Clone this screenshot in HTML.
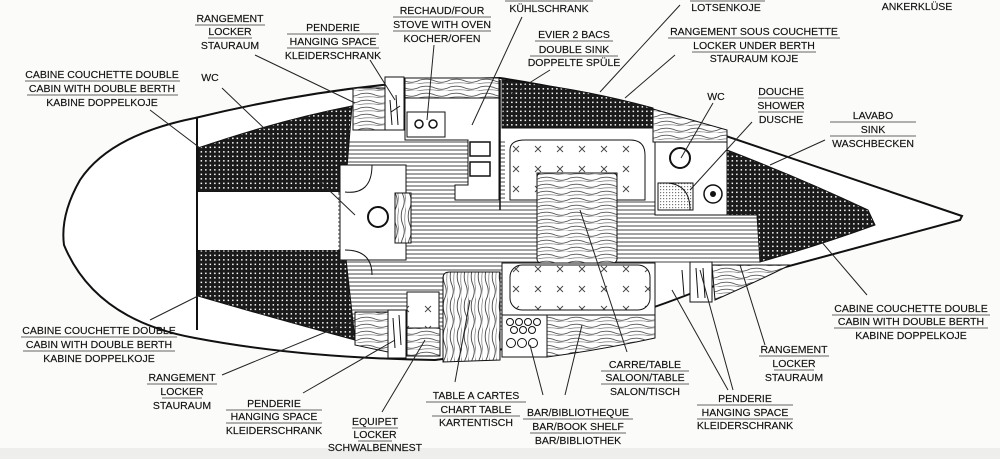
<!DOCTYPE html>
<html><head><meta charset="utf-8"><style>
html,body{margin:0;padding:0;background:#fbfbfa;}
svg{display:block}
text{font-family:"Liberation Sans",sans-serif;font-size:10.5px;fill:#111;text-anchor:middle;stroke:#111;stroke-width:0.15}
</style></head><body>
<svg width="1000" height="459" viewBox="0 0 1000 459" xmlns="http://www.w3.org/2000/svg">
<defs>
<pattern id="hatch" width="4.5" height="4.5" patternUnits="userSpaceOnUse">
<rect width="4.5" height="4.5" fill="#1a1a1a"/><rect x="2.6" y="2.6" width="1.5" height="1.5" fill="#fff"/>
</pattern>
<pattern id="floor" width="6" height="4" patternUnits="userSpaceOnUse">
<rect width="6" height="4" fill="#fff"/><line x1="0" y1="2" x2="6" y2="2" stroke="#444" stroke-width="1"/>
</pattern>
<pattern id="wood" width="30" height="7" patternUnits="userSpaceOnUse">
<rect width="30" height="7" fill="#fff"/><path d="M0 3 Q8 1 15 4 T30 3" fill="none" stroke="#555" stroke-width="0.9"/><path d="M0 6.5 Q10 5 18 6.5 T30 6.5" fill="none" stroke="#777" stroke-width="0.7"/>
</pattern>
<pattern id="woodv" width="7" height="30" patternUnits="userSpaceOnUse">
<rect width="7" height="30" fill="#fff"/><path d="M3 0 Q1 8 4 15 T3 30" fill="none" stroke="#444" stroke-width="0.9"/><path d="M6.5 0 Q5 10 6.5 18 T6.5 30" fill="none" stroke="#777" stroke-width="0.7"/>
</pattern>
<pattern id="cush" width="22" height="20" patternUnits="userSpaceOnUse">
<rect width="22" height="20" fill="#fff"/><path d="M7 6 l6 6 M13 6 l-6 6" stroke="#444" stroke-width="0.9"/>
</pattern>
<pattern id="grid" width="3" height="3" patternUnits="userSpaceOnUse"><rect width="3" height="3" fill="#fff"/><rect width="1.2" height="1.2" fill="#777"/></pattern>
</defs>
<rect x="0" y="448" width="1000" height="11" fill="#eeeeec"/>

<path d="M195 118 Q350 80 500 78 Q580 90 655 112 L962 216 L960 220 Q820 258 700 290 Q560 345 435 360 Q300 358 195 338 Q95 320 64 245 Q60 215 80 180 Q110 135 195 118 Z" fill="#fff" stroke="#111" stroke-width="2"/>

<rect x="335" y="140" width="170" height="190" fill="url(#floor)"/>
<rect x="500" y="200" width="260" height="65" fill="url(#floor)"/>
<line x1="197" y1="118" x2="197" y2="330" stroke="#111" stroke-width="2"/>
<path d="M198 148 Q280 120 352 106 L345 192 L198 192 Z" fill="url(#hatch)" stroke="#111"/>
<path d="M198 250 L345 250 L355 340 Q280 320 198 296 Z" fill="url(#hatch)" stroke="#111"/>
<rect x="198" y="192" width="140" height="58" fill="#fff"/>
<rect x="340" y="165" width="66" height="95" fill="#fff" stroke="#111"/>
<circle cx="378" cy="217" r="10" fill="#fff" stroke="#111" stroke-width="2"/>
<rect x="395" y="193" width="16" height="50" fill="url(#woodv)" stroke="#111"/>
<path d="M345 192 Q372 195 372 165" fill="none" stroke="#111"/>
<path d="M345 250 Q372 250 372 275" fill="none" stroke="#111"/>
<rect x="353" y="88" width="32" height="42" fill="url(#wood)" stroke="#111"/>
<rect x="385" y="77" width="19" height="53" fill="#fff" stroke="#111"/>
<path d="M390 100 L392 125 M396 95 L398 125 M391 112 L400 106" stroke="#111"/>
<rect x="405" y="78" width="94" height="20" fill="url(#wood)" stroke="#111"/>
<path d="M405 98 L499 98 L499 200 L455 200 L455 185 L468 185 L468 140 L405 140 Z" fill="#fff" stroke="#111"/>
<rect x="407" y="112" width="38" height="25" fill="#fff" stroke="#111"/>
<circle cx="419" cy="124" r="4" fill="none" stroke="#111" stroke-width="1.5"/><circle cx="433" cy="124" r="4" fill="none" stroke="#111" stroke-width="1.5"/>
<rect x="470" y="142" width="20" height="14" fill="#fff" stroke="#111" stroke-width="1.5"/>
<rect x="470" y="162" width="20" height="14" fill="#fff" stroke="#111" stroke-width="1.5"/>
<line x1="500" y1="80" x2="500" y2="210" stroke="#111" stroke-width="1.5"/>
<path d="M502 80 Q580 88 653 108 L653 128 L502 128 Z" fill="url(#hatch)" stroke="#111"/>
<path d="M653 109 L727 130 L727 142 L653 142 Z" fill="url(#wood)" stroke="#111"/>
<rect x="655" y="142" width="72" height="73" fill="#fff" stroke="#111"/>
<circle cx="680" cy="158" r="10" fill="#fff" stroke="#111" stroke-width="2"/>
<rect x="658" y="183" width="35" height="27" fill="url(#grid)" stroke="#111"/>
<path d="M668 183 Q690 185 690 210" fill="none" stroke="#111"/>
<circle cx="713" cy="194" r="9" fill="#fff" stroke="#111" stroke-width="1.5"/><circle cx="713" cy="194" r="3" fill="#111"/>
<path d="M510 150 Q510 140 525 140 L630 140 Q645 140 645 155 L645 200 L617 200 L617 173 L537 173 L537 200 L510 200 Z" fill="url(#cush)" stroke="#111"/>
<rect x="537" y="173" width="80" height="90" rx="4" fill="url(#wood)" stroke="#111"/>
<rect x="502" y="263" width="153" height="52" fill="#fff" stroke="#111"/>
<rect x="510" y="265" width="140" height="45" rx="12" fill="url(#cush)" stroke="#111"/>
<rect x="502" y="315" width="45" height="42" fill="#fff" stroke="#111"/>
<g fill="none" stroke="#111"><circle cx="510" cy="322" r="3.5"/><circle cx="519" cy="322" r="3.5"/><circle cx="528" cy="322" r="3.5"/><circle cx="537" cy="322" r="3.5"/><circle cx="514" cy="330" r="3.5"/><circle cx="523" cy="330" r="3.5"/><circle cx="532" cy="330" r="3.5"/><circle cx="511" cy="343" r="4.5"/><circle cx="522" cy="343" r="4.5"/><circle cx="533" cy="343" r="4.5"/></g>
<path d="M547 315 L655 315 L655 338 Q600 350 547 357 Z" fill="url(#wood)" stroke="#111"/>
<path d="M443 278 Q443 272 450 272 L500 272 L500 360 L443 362 Z" fill="url(#woodv)" stroke="#111"/>
<rect x="407" y="292" width="32" height="36" fill="url(#cush)" stroke="#111"/>
<rect x="407" y="328" width="33" height="28" fill="url(#wood)" stroke="#111"/>
<rect x="388" y="310" width="18" height="48" fill="#fff" stroke="#111"/>
<path d="M393 318 L395 348 M399 315 L401 345" stroke="#111"/>
<path d="M355 312 L388 312 L388 352 L355 345 Z" fill="url(#wood)" stroke="#111"/>
<path d="M727 150 Q800 178 868 210 L875 225 Q820 245 760 262 L757 215 L727 215 Z" fill="url(#hatch)" stroke="#111"/>
<path d="M712 265 L790 265 Q760 280 715 300 Z" fill="url(#wood)" stroke="#111"/>
<rect x="690" y="262" width="22" height="40" fill="#fff" stroke="#111"/>
<path d="M682 270 L684 295 M696 268 L698 298 M703 268 L705 298" stroke="#111"/>

<g stroke="#222" stroke-width="1" fill="none">
<path d="M150 110 L200 148"/><path d="M222 88 L355 215"/><path d="M255 55 L355 103"/><path d="M370 60 L395 100"/>
<path d="M434 45 L427 120"/><path d="M522 17 L472 125"/><path d="M550 70 L510 95"/><path d="M680 5 L600 92"/>
<path d="M675 55 L625 98"/><path d="M713 103 L681 158"/><path d="M752 122 L690 190"/><path d="M825 140 L770 165"/>
<path d="M867 295 L820 240"/><path d="M765 345 L740 265"/><path d="M733 390 L700 270"/><path d="M728 390 L672 290"/>
<path d="M627 352 L580 210"/><path d="M543 395 L530 345"/><path d="M565 395 L582 325"/><path d="M455 382 L470 300"/>
<path d="M382 412 L425 340"/><path d="M303 393 L395 340"/><path d="M222 375 L355 320"/><path d="M150 320 L200 295"/>
</g>

<g>
<text x="102" y="78">CABINE COUCHETTE DOUBLE</text><text x="102" y="92">CABIN WITH DOUBLE BERTH</text><text x="102" y="106">KABINE DOPPELKOJE</text>
<text x="210" y="81">WC</text>
<text x="230" y="22">RANGEMENT</text><text x="230" y="35">LOCKER</text><text x="230" y="49">STAURAUM</text>
<text x="333" y="31">PENDERIE</text><text x="333" y="45">HANGING SPACE</text><text x="333" y="59">KLEIDERSCHRANK</text>
<text x="442" y="14">RECHAUD/FOUR</text><text x="442" y="28">STOVE WITH OVEN</text><text x="442" y="42">KOCHER/OFEN</text>
<text x="549" y="12">KÜHLSCHRANK</text>
<text x="726" y="11">LOTSENKOJE</text>
<text x="917" y="10">ANKERKLÜSE</text>
<text x="574" y="38">EVIER 2 BACS</text><text x="574" y="53">DOUBLE SINK</text><text x="574" y="66">DOPPELTE SPÜLE</text>
<text x="754" y="35">RANGEMENT SOUS COUCHETTE</text><text x="754" y="49">LOCKER UNDER BERTH</text><text x="754" y="62">STAURAUM KOJE</text>
<text x="716" y="100">WC</text>
<text x="781" y="95">DOUCHE</text><text x="781" y="109">SHOWER</text><text x="781" y="123">DUSCHE</text>
<text x="873" y="119">LAVABO</text><text x="873" y="133">SINK</text><text x="873" y="147">WASCHBECKEN</text>
<text x="911" y="312">CABINE COUCHETTE DOUBLE</text><text x="911" y="325">CABIN WITH DOUBLE BERTH</text><text x="911" y="339">KABINE DOPPELKOJE</text>
<text x="794" y="353">RANGEMENT</text><text x="794" y="367">LOCKER</text><text x="794" y="381">STAURAUM</text>
<text x="745" y="402">PENDERIE</text><text x="745" y="416">HANGING SPACE</text><text x="745" y="429">KLEIDERSCHRANK</text>
<text x="645" y="368">CARRE/TABLE</text><text x="645" y="381">SALOON/TABLE</text><text x="645" y="395">SALON/TISCH</text>
<text x="578" y="416">BAR/BIBLIOTHEQUE</text><text x="578" y="430">BAR/BOOK SHELF</text><text x="578" y="444">BAR/BIBLIOTHEK</text>
<text x="476" y="399">TABLE A CARTES</text><text x="476" y="413">CHART TABLE</text><text x="476" y="426">KARTENTISCH</text>
<text x="375" y="425">EQUIPET</text><text x="375" y="438">LOCKER</text><text x="375" y="451">SCHWALBENNEST</text>
<text x="274" y="407">PENDERIE</text><text x="274" y="420">HANGING SPACE</text><text x="274" y="434">KLEIDERSCHRANK</text>
<text x="182" y="381">RANGEMENT</text><text x="182" y="395">LOCKER</text><text x="182" y="409">STAURAUM</text>
<text x="99" y="334">CABINE COUCHETTE DOUBLE</text><text x="99" y="348">CABIN WITH DOUBLE BERTH</text><text x="99" y="362">KABINE DOPPELKOJE</text>
</g>
<g stroke="#333" stroke-width="0.8">
<path d="M25 81H180M27 95H178"/><path d="M195 25H265M208 38H252"/><path d="M287 34H379M287 48H379"/>
<path d="M393 17H491M393 31H491"/><path d="M505 1H593M690 1H765"/><path d="M535 41H613M530 56H618"/>
<path d="M668 38H840M692 52H816"/><path d="M758 98H804M758 112H804"/><path d="M830 122H916M830 136H916"/>
<path d="M832 315H990M834 328H988"/><path d="M759 356H829M774 370H814"/><path d="M697 405H793M697 419H793"/>
<path d="M601 371H689M601 384H689"/><path d="M523 419H633M530 433H626"/><path d="M426 402H526M432 416H520"/>
<path d="M352 428H398M358 441H392"/><path d="M226 410H322M226 423H322"/><path d="M147 384H217M162 398H202"/>
<path d="M21 337H177M23 351H175"/>
</g>
</svg>
</body></html>
